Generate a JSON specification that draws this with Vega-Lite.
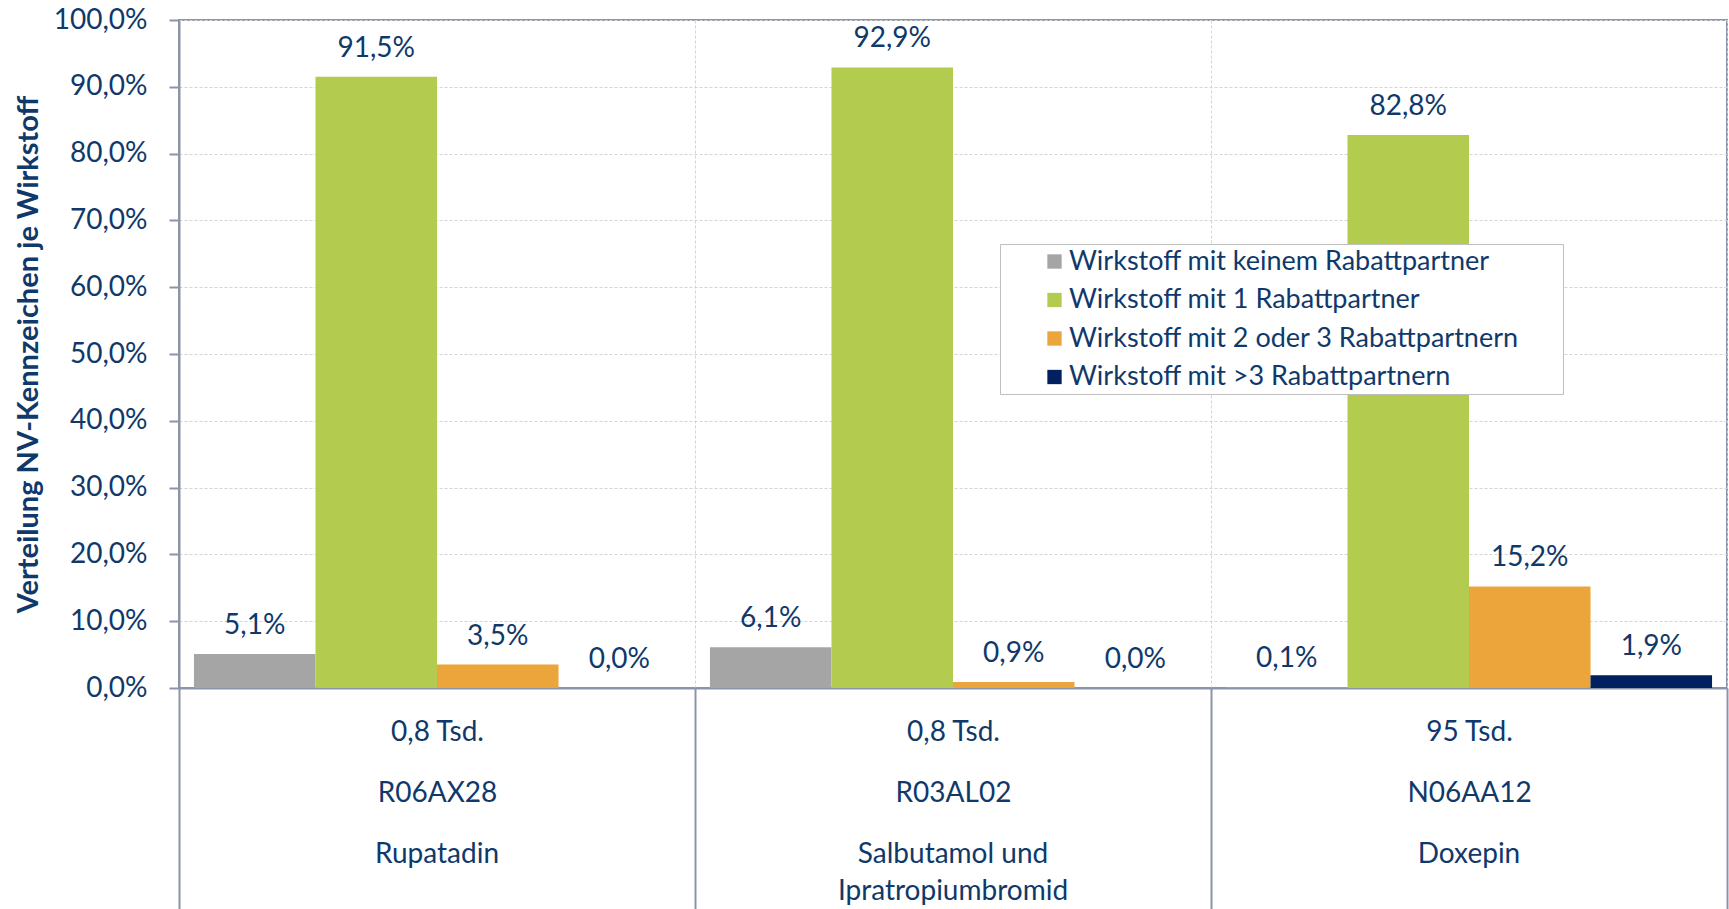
{
  "$schema": "https://vega.github.io/schema/vega-lite/v6.json",
  "width": 1548,
  "height": 668,
  "autosize": {"type": "none"},
  "padding": {"left": 179, "top": 20, "right": 2, "bottom": 221},
  "background": "white",
  "config": {
    "locale": {"number": {"decimal": ",", "thousands": ".", "grouping": [3], "currency": ["", " €"]}},
    "font": "Lato",
    "view": {"stroke": "#8b94a8", "strokeWidth": 2}
  },
  "datasets": {
    "werte": [
      {"kat": "0,8 Tsd.|R06AX28", "gruppe": "Wirkstoff mit keinem Rabattpartner", "anteil": 0.051},
      {"kat": "0,8 Tsd.|R06AX28", "gruppe": "Wirkstoff mit 1 Rabattpartner", "anteil": 0.915},
      {"kat": "0,8 Tsd.|R06AX28", "gruppe": "Wirkstoff mit 2 oder 3 Rabattpartnern", "anteil": 0.035},
      {"kat": "0,8 Tsd.|R06AX28", "gruppe": "Wirkstoff mit >3 Rabattpartnern", "anteil": 0.0},
      {"kat": "0,8 Tsd.|R03AL02", "gruppe": "Wirkstoff mit keinem Rabattpartner", "anteil": 0.061},
      {"kat": "0,8 Tsd.|R03AL02", "gruppe": "Wirkstoff mit 1 Rabattpartner", "anteil": 0.929},
      {"kat": "0,8 Tsd.|R03AL02", "gruppe": "Wirkstoff mit 2 oder 3 Rabattpartnern", "anteil": 0.009},
      {"kat": "0,8 Tsd.|R03AL02", "gruppe": "Wirkstoff mit >3 Rabattpartnern", "anteil": 0.0},
      {"kat": "95 Tsd.|N06AA12", "gruppe": "Wirkstoff mit keinem Rabattpartner", "anteil": 0.001},
      {"kat": "95 Tsd.|N06AA12", "gruppe": "Wirkstoff mit 1 Rabattpartner", "anteil": 0.828},
      {"kat": "95 Tsd.|N06AA12", "gruppe": "Wirkstoff mit 2 oder 3 Rabattpartnern", "anteil": 0.152},
      {"kat": "95 Tsd.|N06AA12", "gruppe": "Wirkstoff mit >3 Rabattpartnern", "anteil": 0.019}
    ],
    "namen": [
      {"kat": "0,8 Tsd.|R06AX28", "name": "Rupatadin", "basis": 0},
      {"kat": "0,8 Tsd.|R03AL02", "name": "Salbutamol und|Ipratropiumbromid", "basis": 0},
      {"kat": "95 Tsd.|N06AA12", "name": "Doxepin", "basis": 0}
    ]
  },
  "encoding": {
    "x": {
      "field": "kat", "type": "nominal", "sort": null,
      "scale": {"paddingInner": 0, "paddingOuter": 0},
      "axis": {
        "title": null, "labelAngle": 0, "tickBand": "extent", "tickSize": 221,
        "tickColor": "#8b94a8", "tickWidth": 2, "domainColor": "#8b94a8", "domainWidth": 2,
        "grid": true, "gridColor": "#d4d4d4", "gridDash": [3, 2], "gridWidth": 1,
        "labelPadding": -169, "labelBaseline": "alphabetic", "labelLineHeight": 61.5,
        "labelFontSize": 28, "labelColor": "#10396b",
        "labelExpr": "split(datum.label, '|')",
        "labelBound": false, "labelOverlap": false, "labelFlush": false, "labelLimit": 0
      }
    }
  },
  "layer": [
    {
      "data": {"name": "werte"},
      "mark": {"type": "bar"},
      "encoding": {
        "y": {
          "field": "anteil", "type": "quantitative",
          "scale": {"domain": [0, 1], "nice": false},
          "axis": {
            "title": "Verteilung NV-Kennzeichen je Wirkstoff",
            "format": ".1%", "values": [0, 0.1, 0.2, 0.3, 0.4, 0.5, 0.6, 0.7, 0.8, 0.9, 1.0],
            "labelFontSize": 28, "labelColor": "#10396b", "labelPadding": 22,
            "tickSize": 10, "tickColor": "#8b94a8", "tickWidth": 2,
            "domainColor": "#8b94a8", "domainWidth": 2,
            "gridColor": "#d4d4d4", "gridDash": [3, 2], "gridWidth": 1,
            "titleFontSize": 29, "titleFontWeight": "bold", "titleColor": "#10396b",
            "titleX": -151, "titleY": 334, "titleAngle": -90, "titleAlign": "center", "titleBaseline": "middle"
          }
        },
        "xOffset": {
          "field": "gruppe", "type": "nominal",
          "sort": ["Wirkstoff mit keinem Rabattpartner", "Wirkstoff mit 1 Rabattpartner", "Wirkstoff mit 2 oder 3 Rabattpartnern", "Wirkstoff mit >3 Rabattpartnern"],
          "scale": {"paddingInner": 0, "paddingOuter": 0.123}
        },
        "color": {
          "field": "gruppe", "type": "nominal",
          "scale": {
            "domain": ["Wirkstoff mit keinem Rabattpartner", "Wirkstoff mit 1 Rabattpartner", "Wirkstoff mit 2 oder 3 Rabattpartnern", "Wirkstoff mit >3 Rabattpartnern"],
            "range": ["#a5a5a5", "#b3cc50", "#eca53b", "#002060"]
          },
          "legend": {
            "orient": "none", "legendX": 821, "legendY": 224,
            "title": " ", "titleOrient": "right", "titleFontSize": 1, "titlePadding": 40,
            "padding": 4, "strokeColor": "#bfbfbf", "fillColor": "white",
            "symbolType": "square", "symbolSize": 205, "symbolStrokeWidth": 0,
            "labelFontSize": 27, "labelColor": "#10396b", "rowPadding": 10.5,
            "symbolOffset": 37, "labelOffset": 1, "labelLimit": 0
          }
        }
      }
    },
    {
      "data": {"name": "werte"},
      "mark": {"type": "text", "dy": -20, "baseline": "alphabetic", "fontSize": 28, "color": "#10396b"},
      "encoding": {
        "y": {"field": "anteil", "type": "quantitative"},
        "xOffset": {
          "field": "gruppe", "type": "nominal",
          "sort": ["Wirkstoff mit keinem Rabattpartner", "Wirkstoff mit 1 Rabattpartner", "Wirkstoff mit 2 oder 3 Rabattpartnern", "Wirkstoff mit >3 Rabattpartnern"],
          "scale": {"paddingInner": 0, "paddingOuter": 0.123}
        },
        "text": {"field": "anteil", "type": "quantitative", "format": ".1%"}
      }
    },
    {
      "data": {"name": "namen"},
      "mark": {"type": "text", "dy": 175, "baseline": "alphabetic", "align": "center", "fontSize": 28, "lineHeight": 37, "lineBreak": "|", "color": "#10396b"},
      "encoding": {
        "y": {"field": "basis", "type": "quantitative"},
        "text": {"field": "name", "type": "nominal"}
      }
    }
  ]
}
